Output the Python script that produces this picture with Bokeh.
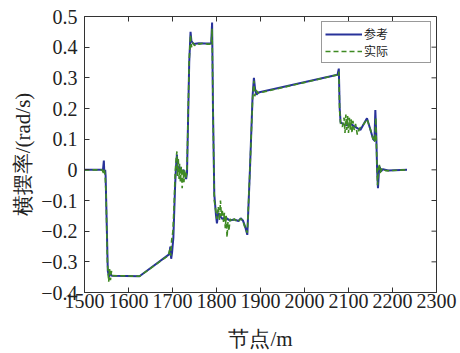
import math
from bokeh.plotting import figure
from bokeh.models import FixedTicker, Range1d, Legend, LegendItem
from bokeh.embed import file_html
from bokeh.resources import INLINE

# ---- data ----
ref_x = [1500, 1542, 1544, 1545, 1547, 1548, 1553, 1556, 1558, 1562, 1625,
         1693, 1695, 1697, 1699, 1702, 1706, 1708, 1710, 1712, 1716, 1720,
         1725, 1729, 1731, 1733, 1738, 1741, 1743, 1748, 1760, 1775, 1788,
         1790, 1792, 1795, 1799, 1801, 1804, 1808, 1813, 1820, 1830, 1840,
         1850, 1855, 1860, 1865, 1870, 1876, 1882, 1885, 1888, 1891, 1895,
         2075, 2078, 2080, 2082, 2087, 2095, 2105, 2115, 2127, 2135, 2142,
         2150, 2156, 2159, 2161, 2163, 2165, 2167, 2169, 2171, 2174, 2178,
         2190, 2233]
ref_y = [0.0, 0.0, 0.03, -0.01, 0.0, -0.02, -0.33, -0.35, -0.335, -0.345, -0.347,
         -0.275, -0.25, -0.29, -0.27, -0.22, -0.05, 0.01, 0.05, 0.0, 0.01, -0.01,
         0.0, -0.02, -0.03, -0.01, 0.35, 0.45, 0.42, 0.41, 0.413, 0.412, 0.413,
         0.48, 0.2, -0.08, -0.15, -0.175, -0.14, -0.15, -0.16, -0.155, -0.165, -0.162,
         -0.167, -0.158, -0.165, -0.185, -0.212, 0.0, 0.24, 0.30, 0.26, 0.245, 0.252,
         0.31, 0.33, 0.2, 0.155, 0.15, 0.145, 0.15, 0.14, 0.13, 0.15, 0.168,
         0.13, 0.1, 0.095, 0.195, 0.12, 0.0, -0.06, -0.01, 0.01, -0.005, 0.002,
         -0.002, 0.0]

act_x = [1500, 1540, 1543, 1545, 1547, 1549, 1552, 1555, 1557, 1559, 1561, 1564,
         1625, 1690, 1694, 1696, 1698, 1701, 1704, 1706, 1708, 1710, 1711, 1713,
         1715, 1716, 1718, 1720, 1722, 1724, 1726, 1728, 1730, 1733, 1738, 1741,
         1743, 1746, 1750, 1755, 1760, 1770, 1780, 1788, 1790, 1792, 1795, 1798,
         1801, 1804, 1807, 1809, 1811, 1813, 1816, 1818, 1820, 1822, 1824, 1826,
         1828, 1831, 1835, 1840, 1848, 1855, 1860, 1865, 1870, 1876, 1882, 1885,
         1887, 1890, 1895, 2075, 2078, 2080, 2082, 2086, 2090, 2092, 2094, 2096,
         2098, 2100, 2102, 2104, 2106, 2108, 2110, 2113, 2116, 2120, 2125, 2135,
         2142, 2150, 2156, 2158, 2160, 2162, 2164, 2166, 2168, 2170, 2172, 2176,
         2185, 2233]
act_y = [0.0, 0.0, -0.01, 0.0, -0.02, -0.08, -0.3, -0.365, -0.32, -0.36, -0.33, -0.345,
         -0.347, -0.28, -0.26, -0.28, -0.23, -0.2, -0.1, -0.01, 0.03, 0.06, -0.02, 0.04,
         -0.03, 0.02, -0.04, 0.01, -0.06, 0.0, -0.04, 0.0, -0.03, 0.0, 0.36, 0.44,
         0.40, 0.415, 0.405, 0.412, 0.41, 0.413, 0.41, 0.41, 0.46, 0.2, -0.1, -0.13,
         -0.16, -0.12, -0.165, -0.1, -0.15, -0.13, -0.17, -0.14, -0.19, -0.15, -0.22, -0.17,
         -0.2, -0.16, -0.17, -0.16, -0.17, -0.16, -0.165, -0.19, -0.205, 0.0, 0.23, 0.29,
         0.24, 0.26, 0.25, 0.31, 0.32, 0.19, 0.15, 0.14, 0.17, 0.12, 0.18, 0.13,
         0.175, 0.12, 0.17, 0.13, 0.165, 0.12, 0.16, 0.13, 0.15, 0.115, 0.135, 0.15,
         0.165, 0.13, 0.1, 0.11, 0.09, 0.17, 0.05, -0.05, 0.0, 0.02, -0.01, 0.005,
         -0.003, 0.0]

x_lim = [1500, 2300]
y_lim = [-0.4, 0.5]
x_ticks = [1500, 1600, 1700, 1800, 1900, 2000, 2100, 2200, 2300]
y_ticks = [-0.4, -0.3, -0.2, -0.1, 0.0, 0.1, 0.2, 0.3, 0.4, 0.5]
y_tick_labels = ["\u22120.4", "\u22120.3", "\u22120.2", "\u22120.1", "0",
                 "0.1", "0.2", "0.3", "0.4", "0.5"]
series_names = ["参考", "实际"]
x_title = "节点/m"
y_title = "横摆率/(rad/s)"

SERIF = "Liberation Serif"
TXT = "#222222"
AX = "#333333"

p = figure(width=460, height=353, x_range=Range1d(*x_lim), y_range=Range1d(*y_lim),
           output_backend="svg", toolbar_location=None,
           min_border_left=84, min_border_right=24, min_border_top=16, min_border_bottom=59)
p.xgrid.visible = False
p.ygrid.visible = False
p.outline_line_color = AX
p.outline_line_width = 1
p.background_fill_color = "white"
p.border_fill_color = "white"

r1 = p.line(ref_x, ref_y, line_color="#28329a", line_width=2)
r2 = p.line(act_x, act_y, line_color="#3f8a23", line_width=1.6, line_dash="5 3")

# inward tick marks on the top and right frame edges (box on)
p.ray(x=x_ticks, y=[y_lim[1]] * len(x_ticks), length=5, length_units="screen",
      angle=-math.pi / 2, line_color=AX, line_width=1)
p.ray(x=[x_lim[1]] * len(y_ticks), y=y_ticks, length=5, length_units="screen",
      angle=math.pi, line_color=AX, line_width=1)

def style_axis(ax, ticks):
    ax.ticker = FixedTicker(ticks=ticks)
    ax.minor_tick_line_color = None
    ax.major_tick_in = 5
    ax.major_tick_out = 0
    ax.major_tick_line_color = AX
    ax.axis_line_color = AX
    ax.major_label_text_font = SERIF
    ax.major_label_text_color = TXT
    ax.major_label_text_font_size = "20px"
    ax.axis_label_text_font = SERIF
    ax.axis_label_text_font_size = "21px"
    ax.axis_label_text_font_style = "normal"
    ax.axis_label_text_color = TXT

xa = p.xaxis[0]
style_axis(xa, x_ticks)
xa.major_label_standoff = 1
xa.axis_label = x_title
xa.axis_label_standoff = 16

ya = p.yaxis[0]
style_axis(ya, y_ticks)
ya.major_label_overrides = {t: s for t, s in zip(y_ticks, y_tick_labels)}
ya.major_label_standoff = 7
ya.axis_label = y_title
ya.axis_label_standoff = 3

legend = Legend(items=[LegendItem(label=series_names[0], renderers=[r1]),
                       LegendItem(label=series_names[1], renderers=[r2])],
                location="top_right", margin=5, padding=3, spacing=0,
                glyph_width=37, glyph_height=14, label_height=14, label_width=63,
                label_standoff=2,
                label_text_font="Noto Sans CJK SC", label_text_font_size="12px",
                label_text_color=TXT,
                border_line_color=AX, border_line_width=1,
                background_fill_color="white", background_fill_alpha=1)
p.add_layout(legend)

open("out.html", "w").write(file_html(p, INLINE))
